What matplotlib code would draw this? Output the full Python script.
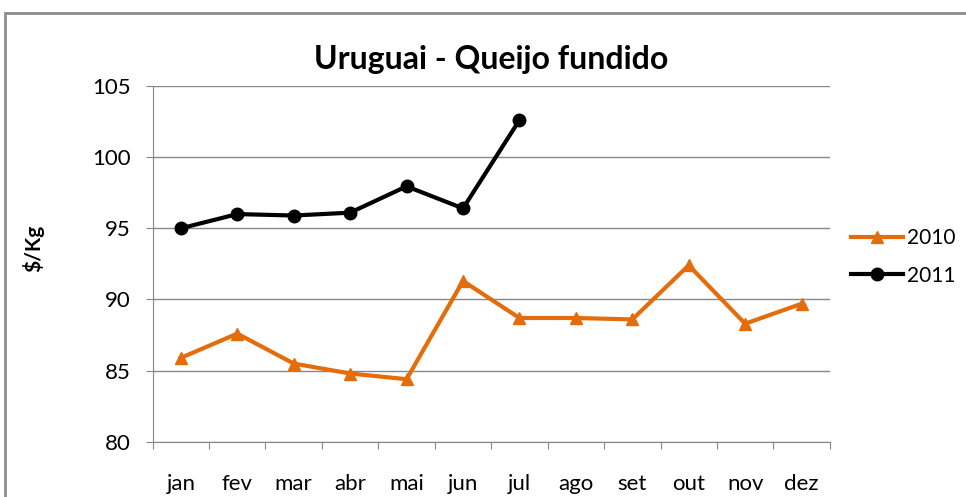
import matplotlib.pyplot as plt
from matplotlib.patches import Rectangle

months = ["jan", "fev", "mar", "abr", "mai", "jun", "jul", "ago", "set", "out", "nov", "dez"]
y2010 = [85.9, 87.6, 85.5, 84.8, 84.4, 91.3, 88.7, 88.7, 88.6, 92.4, 88.3, 89.7]
y2011 = [95.0, 96.0, 95.9, 96.1, 97.95, 96.4, 102.6]
yticks = [80, 85, 90, 95, 100, 105]

plt.rcParams["font.family"] = ["Lato", "DejaVu Sans"]

fig = plt.figure(figsize=(9.66, 4.97), dpi=100)
ax = fig.add_axes([0.158, 0.111, 0.701, 0.716])

# outer chart border
fig.patches.append(Rectangle((5 / 966, -0.1), 1.2, 1.1 - 13 / 497, transform=fig.transFigure,
                             fill=False, edgecolor="#8c8c8c", linewidth=2))

x = list(range(len(months)))
ax.plot(x, y2010, color="#E46C0A", linewidth=3, marker="^", markersize=9, label="2010")
ax.plot(x[:len(y2011)], y2011, color="black", linewidth=3, marker="o", markersize=9, label="2011")

ax.set_xlim(-0.5, 11.5)
ax.set_ylim(80, 105)
ax.set_yticks(yticks)
ax.tick_params(axis="y", labelsize=16, length=5, color="#888888", pad=11)

# category ticks between months, labels at centres
ax.set_xticks([i + 0.5 for i in range(-1, 12)])
ax.set_xticklabels([])
ax.set_xticks(x, minor=True)
ax.set_xticklabels(months, minor=True)
ax.tick_params(axis="x", which="major", length=5, color="#888888")
ax.tick_params(axis="x", which="minor", length=0, labelsize=16, pad=23)

ax.grid(axis="y", color="#888888", linewidth=1)
ax.set_axisbelow(True)
for s in ["top", "right"]:
    ax.spines[s].set_visible(False)
for s in ["left", "bottom"]:
    ax.spines[s].set_color("#888888")

ax.set_title("Uruguai - Queijo fundido", fontsize=23, fontweight="bold", pad=12)
fig.text(0.034, 0.5, "$/Kg", rotation=90, fontsize=15, fontweight="bold", va="center", ha="center")

ax.legend(loc="center left", bbox_to_anchor=(1.0, 0.52), frameon=False, fontsize=15,
          handlelength=2.5, labelspacing=0.85, handletextpad=0.2, borderaxespad=0.6)

fig.savefig("out.png", dpi=100)
